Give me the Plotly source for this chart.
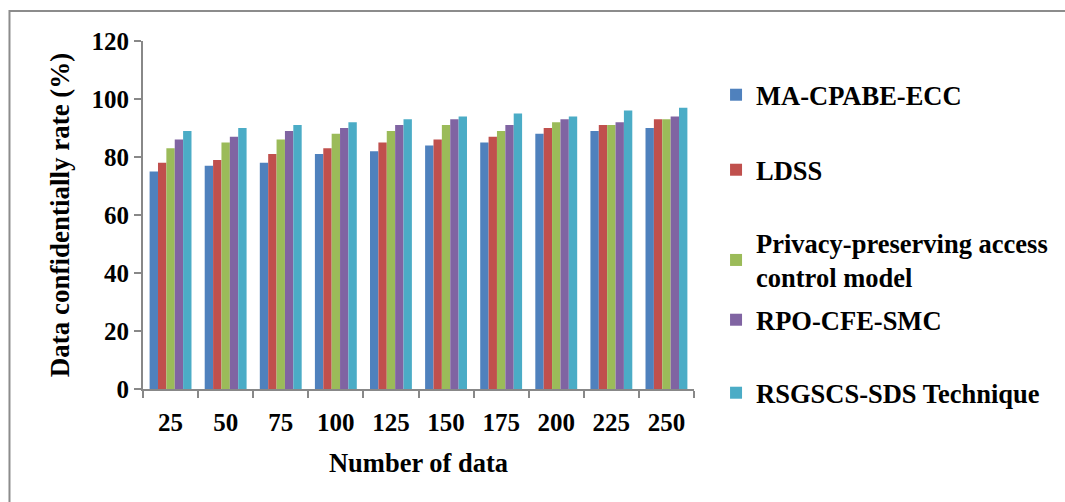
import plotly.graph_objects as go

categories = ["25", "50", "75", "100", "125", "150", "175", "200", "225", "250"]
series_names = [
    "MA-CPABE-ECC",
    "LDSS",
    "Privacy-preserving access<br>control model",
    "RPO-CFE-SMC",
    "RSGSCS-SDS Technique",
]
ma_cpabe_ecc = [75, 77, 78, 81, 82, 84, 85, 88, 89, 90]
ldss = [78, 79, 81, 83, 85, 86, 87, 90, 91, 93]
privacy_preserving = [83, 85, 86, 88, 89, 91, 89, 92, 91, 93]
rpo_cfe_smc = [86, 87, 89, 90, 91, 93, 91, 93, 92, 94]
rsgscs_sds = [89, 90, 91, 92, 93, 94, 95, 94, 96, 97]
y_ticks = [0, 20, 40, 60, 80, 100, 120]

colors = ["#4F81BD", "#C0504D", "#9BBB59", "#8064A2", "#4BACC6"]
all_series = [ma_cpabe_ecc, ldss, privacy_preserving, rpo_cfe_smc, rsgscs_sds]

W, H = 1065, 502
ml, mr, mt, mb = 143, 369, 41, 113
pw = W - ml - mr
ph = H - mt - mb
def px_x(p):
    return (p - ml) / pw
def px_y(p):
    return (H - mb - p) / ph

ff = "Liberation Serif, Times New Roman, serif"
def fnt(size):
    return dict(family=ff, size=size, color="black", weight="bold")

legend_ids = ["legend", "legend2", "legend3", "legend4", "legend5"]
legend_centers_px = [95, 170, 260, 320, 393]

fig = go.Figure()
for i, (name, vals) in enumerate(zip(series_names, all_series)):
    fig.add_trace(go.Bar(
        x=categories, y=vals, name=name,
        marker=dict(color=colors[i], line=dict(width=0)),
        legend=legend_ids[i], showlegend=True,
    ))

layout_legends = {}
for lid, cy in zip(legend_ids, legend_centers_px):
    layout_legends[lid] = dict(
        x=1.04, y=px_y(cy), xanchor="left", yanchor="middle",
        font=fnt(26.5), bgcolor="rgba(0,0,0,0)", visible=True,
    )

fig.update_layout(
    width=W, height=H,
    showlegend=True,
    margin=dict(l=ml, r=mr, t=mt, b=mb),
    paper_bgcolor="white", plot_bgcolor="white",
    barmode="group", bargap=0.24, bargroupgap=0,
    font=fnt(24),
    xaxis=dict(
        type="category",
        showline=True, linecolor="#888888", linewidth=2,
        ticks="outside", tickson="boundaries", ticklen=7, tickcolor="#888888", tickwidth=2,
        tickfont=fnt(25), ticklabelstandoff=10,
        title=dict(text="Number of data", font=fnt(26.5), standoff=18),
        showgrid=False,
    ),
    yaxis=dict(
        range=[0, 120], tickvals=y_ticks,
        showline=True, linecolor="#888888", linewidth=2,
        ticks="outside", ticklen=7, tickcolor="#888888", tickwidth=2,
        tickfont=fnt(25),
        title=dict(text="Data confidentially rate (%)", font=fnt(27), standoff=14),
        showgrid=False, zeroline=False,
    ),
    **layout_legends,
)

# outer border around chart area (left and top edges visible)
fig.add_shape(type="rect", xref="paper", yref="paper",
              x0=px_x(9), x1=px_x(1090), y0=px_y(560), y1=px_y(11),
              line=dict(color="#8c8c8c", width=2), fillcolor="rgba(0,0,0,0)", layer="below")

fig.write_html("out.html", config={"displayModeBar": False},
               post_script="document.body.style.margin='0';")
